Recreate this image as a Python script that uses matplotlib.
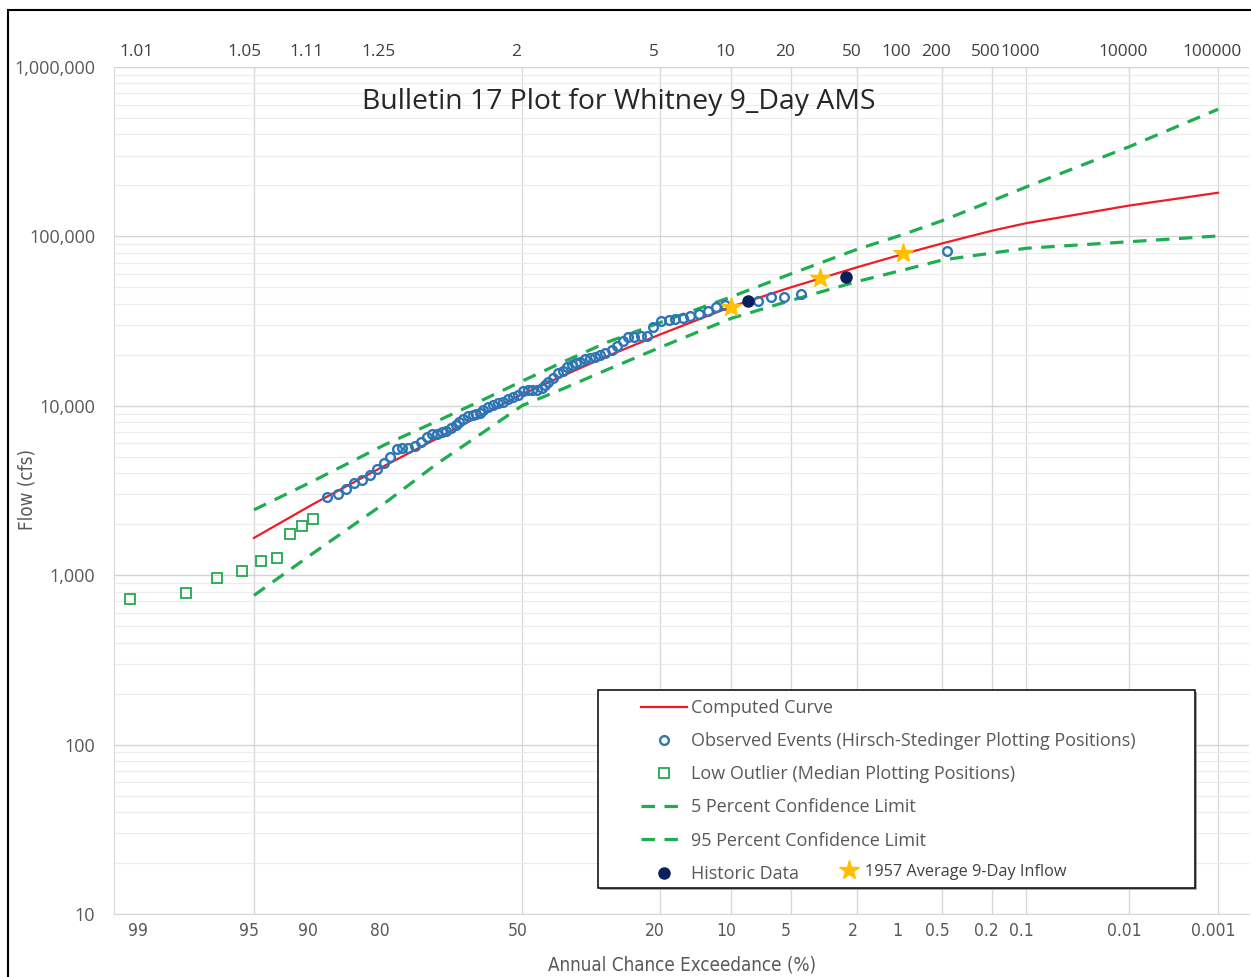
import numpy as np
import matplotlib
matplotlib.use("Agg")
import matplotlib.pyplot as plt
import matplotlib.transforms as mtransforms
from matplotlib import font_manager
from matplotlib.patches import Rectangle
from matplotlib.ticker import FixedLocator, LogLocator, NullFormatter, NullLocator, FuncFormatter
from statistics import NormalDist

# ---- data (annual chance exceedance in %, flow in cfs) ----
curve_p = [95, 90, 80, 70, 60, 50, 40, 30, 20, 10, 5, 2, 1, 0.5, 0.2, 0.1, 0.01, 0.001]
computed = [1660, 2630, 4440, 6400, 8800, 11700, 15100, 19700, 26300, 38500, 50000,
            65800, 78300, 91000, 108000, 119700, 152000, 181000]
conf_05 = [2430, 3600, 5900, 8100, 10700, 14000, 18200, 23800, 30900, 44000, 60000,
           84000, 102000, 124000, 162000, 196000, 338000, 563000]
conf_95 = [760, 1350, 2670, 4540, 6830, 10040, 12650, 16400, 22060, 32850, 41800,
           54200, 63000, 72600, 79700, 85100, 93000, 100600]

obs_p = [88.4, 87.1, 86.0, 84.9, 83.7, 82.5, 81.4, 80.1, 79.1, 77.9, 76.9, 75.8, 74.5,
         73.3, 72.1, 71.1, 70.0, 68.9, 68.0, 67.0, 65.8, 65.0, 64.1, 63.0, 61.8, 61.1,
         60.2, 59.4, 58.3, 57.1, 55.8, 54.6, 53.4, 52.2, 51.0, 49.8, 48.5, 47.7, 46.5,
         45.3, 44.5, 43.7, 42.5, 41.3, 40.1, 39.1, 38.1, 37.1, 36.2, 35.0, 33.9, 32.8,
         31.7, 30.6, 29.2, 28.0, 26.9, 25.8, 24.7, 23.4, 22.3, 21.1, 19.8, 18.5, 17.5,
         16.3, 15.2, 14.0, 12.8, 11.7, 10.7, 7.4, 6.4, 5.4, 4.4, 0.46]
obs_q = [2910, 3020, 3230, 3490, 3650, 3900, 4240, 4620, 4970, 5540, 5630, 5630, 5790,
         6140, 6570, 6770, 6860, 6960, 7130, 7400, 7700, 8020, 8320, 8700, 8820, 9000,
         9100, 9450, 9800, 10100, 10350, 10570, 10920, 11320, 11580, 12280, 12400, 12400,
         12450, 12690, 13270, 13880, 14590, 15560, 16110, 16880, 17410, 17970, 18210,
         18820, 19070, 19490, 19950, 20420, 21360, 22550, 24130, 25480, 25580, 25720,
         25820, 28990, 31800, 32100, 32540, 33120, 33900, 34690, 36430, 38460, 39200,
         41740, 43700, 44070, 45710, 82340]

low_p = [99.19, 98.04, 96.93, 95.73, 94.56, 93.39, 92.28, 91.19, 90.0]
low_q = [720, 780, 960, 1060, 1220, 1270, 1760, 1950, 2150]

hist_p = [8.35, 2.37]
hist_q = [41700, 57300]

inflow_p = [10.0, 3.4, 0.98]
inflow_q = [38500, 56600, 79500]

exceed_ticks = [99, 95, 90, 80, 50, 20, 10, 5, 2, 1, 0.5, 0.2, 0.1, 0.01, 0.001]
exceed_labels = ["99", "95", "90", "80", "50", "20", "10", "5", "2", "1", "0.5", "0.2",
                 "0.1", "0.01", "0.001"]
grid_p = [95, 50, 20, 10, 5, 2, 0.5, 0.2, 0.1, 0.01, 0.001]
return_periods = [1.01, 1.05, 1.11, 1.25, 2, 5, 10, 20, 50, 100, 200, 500, 1000, 10000, 100000]
return_labels = ["1.01", "1.05", "1.11", "1.25", "2", "5", "10", "20", "50", "100", "200",
                 "500", "1000", "10000", "100000"]

# ---- normal probability scale (axis later inverted so 99 sits on the left) ----
nd = NormalDist()
_ppf = np.vectorize(nd.inv_cdf, otypes=[float])
_cdf = np.vectorize(nd.cdf, otypes=[float])


def exceed_to_z(p):
    p = np.clip(np.asarray(p, dtype=float), 1e-10, 100 - 1e-10)
    return _ppf(p / 100.0)


def z_to_exceed(z):
    return 100.0 * _cdf(np.asarray(z, dtype=float))


# narrow font for the bottom axis if a condensed face is around
_cond = font_manager.findfont(font_manager.FontProperties(family="DejaVu Sans",
                                                          stretch="condensed"))
if "ondensed" in _cond:
    narrow = dict(family="DejaVu Sans", stretch="condensed")
    tick_sz, title_sz = 12.5, 13.5
else:
    narrow = dict(family="Liberation Sans")
    tick_sz, title_sz = 12.3, 13.2

W, H = 1251, 977
fig = plt.figure(figsize=(W / 100, H / 100), dpi=100)
ax = fig.add_axes([114 / W, 1 - 914 / H, (1249 - 114) / W, (914 - 67) / H])

ax.set_xscale("function", functions=(exceed_to_z, z_to_exceed))
ax.set_yscale("log")
ax.set_xlim(99.384, 0.00042)
ax.set_ylim(10, 1e6)

red = "#EE1C25"
green = "#1EAD4F"
blue = "#2E75B6"
gray_txt = "#595959"

line_comp, = ax.plot(curve_p, computed, color=red, lw=1.6, zorder=3)
line_up, = ax.plot(curve_p, conf_05, color=green, lw=2.3, dashes=(4.2, 3.0), zorder=3)
line_lo, = ax.plot(curve_p, conf_95, color=green, lw=2.3, dashes=(4.2, 3.0), zorder=3)
obs, = ax.plot(obs_p, obs_q, ls="none", marker="o", ms=6.3, mfc="none", mec=blue,
               mew=1.7, zorder=4)
low, = ax.plot(low_p, low_q, ls="none", marker="s", ms=7, mfc="none", mec="#22A94F",
               mew=1.3, zorder=4)
hist, = ax.plot(hist_p, hist_q, ls="none", marker="o", ms=8, color="#0A1F5C", zorder=5)
star, = ax.plot(inflow_p, inflow_q, ls="none", marker="*", ms=15, color="#FFC000",
                mec="#FFC000", zorder=6)

# ---- axes / grid ----
ax.xaxis.remove_overlapping_locs = False
ax.xaxis.set_major_locator(FixedLocator(exceed_ticks))
ax.set_xticklabels(exceed_labels)
ax.xaxis.set_minor_locator(FixedLocator(grid_p))
ax.xaxis.set_minor_formatter(NullFormatter())
ax.yaxis.set_major_locator(LogLocator(base=10, numticks=10))
ax.yaxis.set_major_formatter(FuncFormatter(lambda v, _: f"{v:,.0f}"))
ax.yaxis.set_minor_locator(LogLocator(base=10, subs=np.arange(2, 10), numticks=20))
ax.yaxis.set_minor_formatter(NullFormatter())

ax.grid(False)
ax.xaxis.grid(True, which="minor", color="#D9D9D9", lw=1.0)
ax.yaxis.grid(True, which="major", color="#D4D4D4", lw=1.0)
ax.yaxis.grid(True, which="minor", color="#EBEBEB", lw=0.8)
ax.set_axisbelow(True)

ax.tick_params(axis="both", which="both", length=0)
ax.tick_params(axis="y", pad=13.5, labelsize=13, labelcolor=gray_txt)
ax.tick_params(axis="x", pad=5.5, labelsize=tick_sz, labelcolor=gray_txt)
for lab in ax.get_yticklabels():
    lab.set_family("Open Sans")
for lab in ax.get_xticklabels():
    lab.update(narrow)
for side in ["top", "right"]:
    ax.spines[side].set_visible(False)
for side in ["left", "bottom"]:
    ax.spines[side].set_color("#D9D9D9")

# top axis: return period
ax2 = ax.twiny()
ax2.set_xscale("function", functions=(exceed_to_z, z_to_exceed))
ax2.set_xlim(ax.get_xlim())
ax2.xaxis.set_major_locator(FixedLocator([100.0 / t for t in return_periods]))
ax2.set_xticklabels(return_labels)
ax2.xaxis.set_minor_locator(NullLocator())
ax2.tick_params(axis="x", length=0, pad=5, labelsize=12.4, labelcolor="#404040")
for lab in ax2.get_xticklabels():
    lab.set_family("Open Sans")
for s in ax2.spines.values():
    s.set_visible(False)

# excel-style label nudges
shift_b = mtransforms.ScaledTranslation(-0.05, 0, fig.dpi_scale_trans)
shift_t = mtransforms.ScaledTranslation(-0.06, 0, fig.dpi_scale_trans)
for lab in ax.get_xticklabels():
    lab.set_transform(lab.get_transform() + shift_b)
for lab in ax2.get_xticklabels():
    lab.set_transform(lab.get_transform() + shift_t)

# titles
fig.text(619 / W, 1 - 102 / H, "Bulletin 17 Plot for Whitney 9_Day AMS", ha="center",
         va="center", fontsize=20.4, family="Open Sans", color="#262626")
fig.text((114 + 1249) / 2 / W, 1 - 965 / H, "Annual Chance Exceedance (%)", ha="center",
         va="center", fontsize=title_sz, color=gray_txt, **narrow)
fig.text(27 / W, 1 - 490 / H, "Flow (cfs)", ha="center", va="center", rotation=90,
         fontsize=title_sz, color=gray_txt, **narrow)

# legend box with shadow
ax.add_patch(Rectangle((600 / W, 1 - 890 / H), 597 / W, 198 / H, transform=fig.transFigure,
                       facecolor="#A6A6A6", edgecolor="none", zorder=7, clip_on=False))
ax.add_patch(Rectangle((598 / W, 1 - 888 / H), 597 / W, 198 / H, transform=fig.transFigure,
                       facecolor="white", edgecolor="black", lw=1.1, zorder=8, clip_on=False))

leg = ax.legend([line_comp, obs, low, line_up, line_lo, hist],
                ["Computed Curve", "Observed Events (Hirsch-Stedinger Plotting Positions)",
                 "Low Outlier (Median Plotting Positions)", "5 Percent Confidence Limit",
                 "95 Percent Confidence Limit", "Historic Data"],
                loc="upper left", bbox_to_anchor=(641 / W, 1 - 699 / H),
                bbox_transform=fig.transFigure, frameon=False, borderpad=0,
                borderaxespad=0, handlelength=2.55, handletextpad=0.22, labelspacing=0.84,
                numpoints=1, prop={"family": "Open Sans", "size": 13}, labelcolor=gray_txt)
leg.set_zorder(9)
ax.add_artist(leg)
leg2 = ax.legend([star], ["1957 Average 9-Day Inflow"], loc="center left",
                 bbox_to_anchor=(841 / W, 1 - 872 / H), bbox_transform=fig.transFigure,
                 frameon=False, borderpad=0, borderaxespad=0, handlelength=1.0,
                 handletextpad=0.5, numpoints=1,
                 prop={"family": "Open Sans", "size": 11.7}, labelcolor="#404040")
leg2.set_zorder(9)

# outer frame of the picture
fig.add_artist(Rectangle((8 / W, -0.1), 2.0, 1.1 - 10 / H, transform=fig.transFigure,
                         fill=False, edgecolor="black", lw=1.5))

fig.savefig("out.png", dpi=100)
